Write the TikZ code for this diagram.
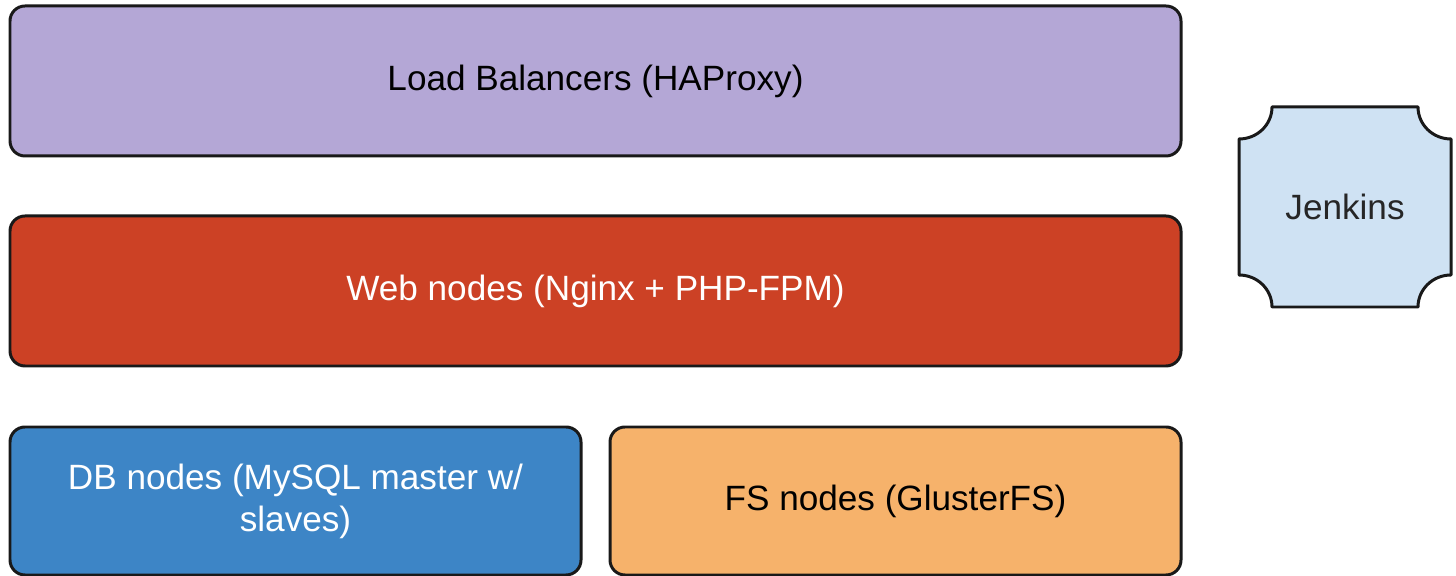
\documentclass[tikz,border=0pt]{standalone}
\usepackage{fontspec}
\setmainfont{Liberation Sans}
\definecolor{lbpurple}{HTML}{B4A7D6}
\definecolor{webred}{HTML}{CC4125}
\definecolor{dbblue}{HTML}{3D85C6}
\definecolor{fsorange}{HTML}{F6B26B}
\definecolor{jenkblue}{HTML}{CFE2F3}
\tikzset{
    tier/.style={draw=black!90, line width=1.7pt, rounded corners=0.3cm, align=center, font=\fontsize{20}{24}\selectfont, inner sep=0pt},
}
\begin{document}
\begin{tikzpicture}
    \useasboundingbox (0,0) rectangle (29.12,11.52);

    % Tiers
    \node[tier, fill=lbpurple, minimum width=23.42cm, minimum height=3cm] (lb) at (11.91,9.9) {Load Balancers (HAProxy)};
    \node[tier, fill=webred, text=white, minimum width=23.42cm, minimum height=3cm] (web) at (11.91,5.7) {Web nodes (Nginx + PHP-FPM)};
    \node[tier, fill=dbblue, text=white, minimum width=11.42cm, minimum height=2.96cm] (db) at (5.91,1.5) {DB nodes (MySQL master w/\\slaves)};
    \node[tier, fill=fsorange, minimum width=11.42cm, minimum height=2.96cm] (fs) at (17.91,1.5) {FS nodes (GlusterFS)};

    % Jenkins (concave corners)
    \filldraw[fill=jenkblue, draw=black!90, line width=1.7pt, line join=round]
        (24.78,8.74) arc (270:360:0.66 and 0.64) -- (28.36,9.38)
        arc (180:270:0.66 and 0.64) -- (29.02,6.02)
        arc (90:180:0.66 and 0.64) -- (25.44,5.38)
        arc (0:90:0.66 and 0.64) -- cycle;
    \node[font=\fontsize{20}{24}\selectfont, text=black!85] (jenkins) at (26.9,7.38) {Jenkins};
\end{tikzpicture}
\end{document}
